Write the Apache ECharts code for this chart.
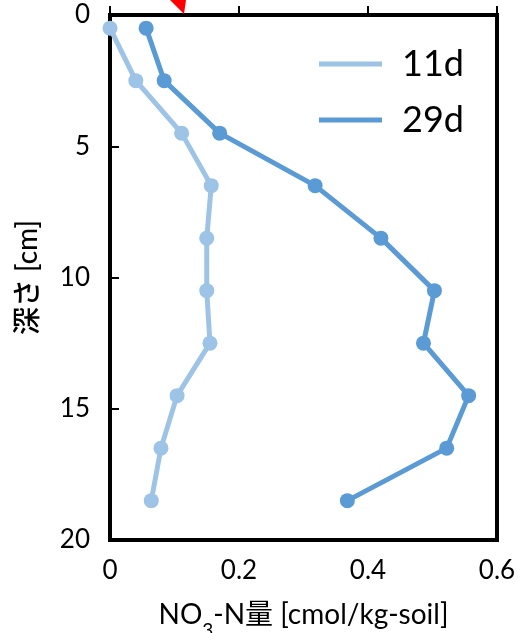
<!DOCTYPE html>
<html><head><meta charset="utf-8">
<script src="https://cdn.jsdelivr.net/npm/echarts@6/dist/echarts.min.js"></script>
<style>html,body{margin:0;padding:0;background:#fff}#c{width:522px;height:633px}</style>
</head><body><div id="c"></div>
<script>
const depths = [0.5, 2.5, 4.5, 6.5, 8.5, 10.5, 12.5, 14.5, 16.5, 18.5];
const d11 = [0.000, 0.040, 0.111, 0.157, 0.150, 0.150, 0.155, 0.104, 0.079, 0.064];
const d29 = [0.056, 0.084, 0.170, 0.318, 0.420, 0.503, 0.486, 0.556, 0.522, 0.368];
const seriesNames = ['11d', '29d'];
const xTicks = [0, 0.2, 0.4, 0.6];
const yTicks = [0, 5, 10, 15, 20];

const FONT = 'Lato, "Noto Sans CJK JP", sans-serif';
const chart = echarts.init(document.getElementById('c'), null, {renderer: 'canvas'});
const pairs = arr => arr.map((v, i) => [v, depths[i]]);
chart.setOption({
  animation: false,
  grid: {left: 110, right: 25, top: 15, bottom: 93, outerBoundsMode: 'none', containLabel: false,
         show: true, borderColor: '#000', borderWidth: 4, backgroundColor: 'transparent'},
  legend: {
    orient: 'vertical', left: 314, top: 41, itemWidth: 63, itemHeight: 5, itemGap: 20,
    icon: 'rect', data: seriesNames,
    textStyle: {fontFamily: FONT, fontSize: 36, color: '#000', padding: [0, 0, 0, 15]}
  },
  xAxis: {
    type: 'value', min: xTicks[0], max: xTicks[xTicks.length - 1], interval: 0.2,
    axisLine: {show: true, lineStyle: {color: '#000', width: 4}},
    axisTick: {show: true, inside: true, length: 9, lineStyle: {color: '#000', width: 2}},
    splitLine: {show: false},
    axisLabel: {fontFamily: FONT, fontSize: 26, color: '#000', margin: 18, formatter: v => String(+v.toFixed(1))},
    name: '{a|NO}{s|3}{a|-N量 [cmol/kg-soil]}', nameLocation: 'middle', nameGap: 58,
    nameTextStyle: {rich: {
      a: {fontFamily: FONT, fontSize: 28, color: '#000', lineHeight: 34},
      s: {fontFamily: FONT, fontSize: 19, color: '#000', lineHeight: 34, verticalAlign: 'bottom', padding: [0, 0, -8, 0]}
    }}
  },
  yAxis: {
    type: 'value', inverse: true, min: yTicks[0], max: yTicks[yTicks.length - 1], interval: 5,
    axisLine: {show: true, lineStyle: {color: '#000', width: 4}},
    axisTick: {show: true, inside: true, length: 9, lineStyle: {color: '#000', width: 2}},
    splitLine: {show: false},
    axisLabel: {fontFamily: FONT, fontSize: 26, color: '#000', margin: 20},
    name: '深さ [cm]', nameLocation: 'middle', nameGap: 68, nameRotate: 90,
    nameTextStyle: {fontFamily: FONT, fontSize: 28, color: '#000', fontWeight: 500}
  },
  series: [
    {name: seriesNames[0], type: 'line', data: pairs(d11), symbol: 'circle', symbolSize: 15,
     lineStyle: {color: '#9DC3E6', width: 5}, itemStyle: {color: '#9DC3E6'}, z: 3},
    {name: seriesNames[1], type: 'line', data: pairs(d29), symbol: 'circle', symbolSize: 15,
     lineStyle: {color: '#5B9BD5', width: 5}, itemStyle: {color: '#5B9BD5'}, z: 4}
  ],
  graphic: [{
    type: 'polygon', z: 10,
    shape: {points: [[170, 0], [186, 0], [184, 14]]},
    style: {fill: '#FF0000'}
  }]
});
</script></body></html>
